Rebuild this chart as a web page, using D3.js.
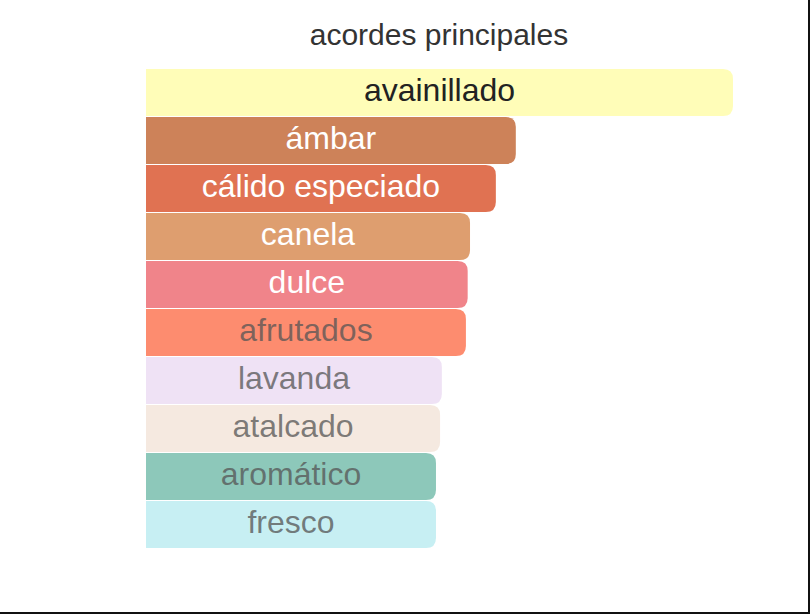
<!DOCTYPE html>
<html>
<head>
<meta charset="utf-8">
<script src="https://cdn.jsdelivr.net/npm/d3@7"></script>
<style>
  html, body { margin: 0; padding: 0; background: #fff; }
  svg { display: block; }
</style>
</head>
<body>
<div id="chart"></div>
<script>
// acordes principales

var width = 810;
var height = 614;

var accords = ['avainillado', 'ámbar', 'cálido especiado', 'canela', 'dulce',
  'afrutados', 'lavanda', 'atalcado', 'aromático', 'fresco'];
var values = [100, 63, 59.6, 55.2, 54.8, 54.5, 50.4, 50.1, 49.4, 49.4];
var barColors = ['#fffdb8', '#cd8259', '#e07252', '#de9e6f', '#f0848a',
  '#fd8c6f', '#efe2f5', '#f5e9e0', '#8dc8ba', '#c7eff3'];
var textColors = ['#222', '#fff', '#fff', '#fff', '#fff',
  'dark', 'dark', 'dark', 'dark', 'dark'];

var svg = d3.select('#chart')
  .append('svg')
  .attr('width', width)
  .attr('height', height);

svg.append('rect')
  .attr('width', width)
  .attr('height', height)
  .attr('fill', '#fff');

// titulo
svg.append('text')
  .attr('x', 439)
  .attr('y', 45)
  .attr('text-anchor', 'middle')
  .style('font-family', '"Liberation Sans", Arial, sans-serif')
  .style('font-size', '30px')
  .attr('fill', '#333')
  .text('acordes principales');

var x = d3.scaleLinear()
  .domain([0, 100])
  .range([146, 733]);

var y = d3.scaleBand()
  .domain(accords)
  .range([69, 549])
  .padding(0);

var r = 10;

// barra con esquinas redondeadas solo a la derecha
function barPath(d) {
  var x0 = x(0), x1 = x(d.value);
  var y0 = y(d.name), h = y.bandwidth() - 1;
  return 'M' + x0 + ',' + y0 +
    'H' + (x1 - r) +
    'Q' + x1 + ',' + y0 + ' ' + x1 + ',' + (y0 + r) +
    'V' + (y0 + h - r) +
    'Q' + x1 + ',' + (y0 + h) + ' ' + (x1 - r) + ',' + (y0 + h) +
    'H' + x0 + 'Z';
}

var data = accords.map((name, i) => {
  return { name: name, value: values[i], color: barColors[i], text: textColors[i] };
});

var bars = svg.selectAll('g.bar')
  .data(data)
  .enter()
  .append('g')
  .attr('class', 'bar');

bars.append('path')
  .attr('d', barPath)
  .attr('fill', d => d.color);

bars.append('text')
  .attr('x', d => (x(0) + x(d.value)) / 2)
  .attr('y', d => y(d.name) + y.bandwidth() / 2 + 8)
  .attr('text-anchor', 'middle')
  .style('font-family', '"Liberation Sans", Arial, sans-serif')
  .style('font-size', '32px')
  .attr('fill', d => d.text === 'dark' ? '#555' : d.text)
  .attr('fill-opacity', d => d.text === 'dark' ? 0.75 : 1)
  .text(d => d.name);

// borde de la captura
svg.append('rect')
  .attr('x', width - 2)
  .attr('y', 0)
  .attr('width', 2)
  .attr('height', height)
  .attr('fill', '#111');
svg.append('rect')
  .attr('x', 0)
  .attr('y', height - 2)
  .attr('width', width)
  .attr('height', 2)
  .attr('fill', '#111');
</script>
</body>
</html>
